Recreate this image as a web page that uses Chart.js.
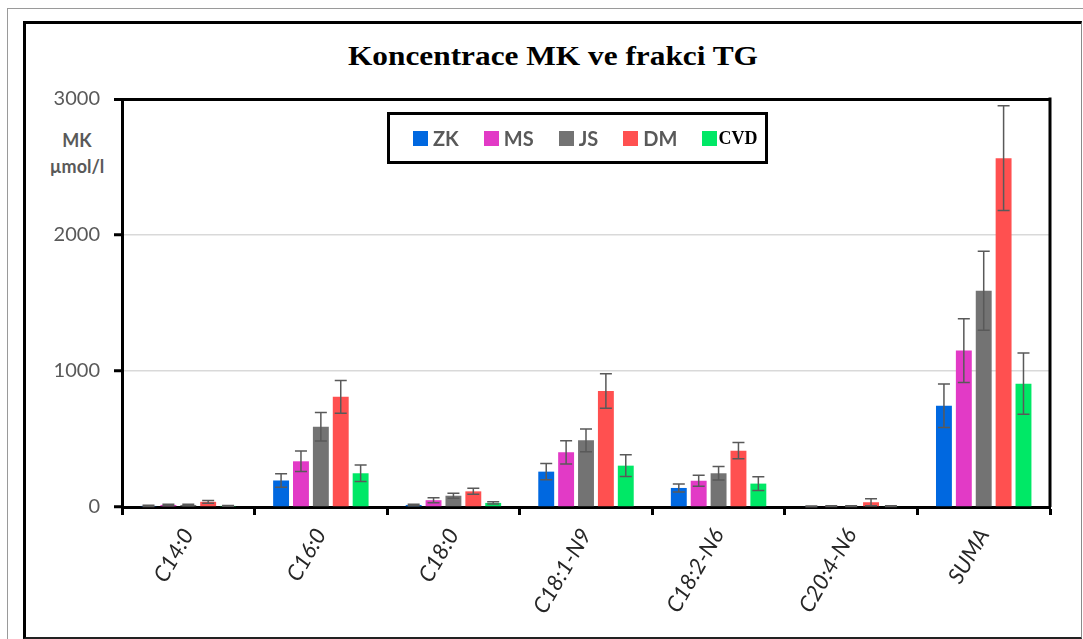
<!DOCTYPE html>
<html>
<head>
<meta charset="utf-8">
<script src="https://cdn.jsdelivr.net/npm/chart.js@4.4.1/dist/chart.umd.min.js"></script>
<style>
    body { margin: 0; background: #fff; }
    #wrap { position: relative; width: 1083px; height: 639px; overflow: hidden; }
    .outer { position: absolute; left: 7px; top: 8px; width: 1090px; height: 650px; border: 1px solid #9a9a9a; }
    .inner { position: absolute; left: 23px; top: 21px; width: 1055px; height: 613px;
             border-left: 3px solid #000; border-top: 3px solid #000;
             border-right: 1px solid #8a8a8a; border-bottom: 2px solid #222; }
    #title { position: absolute; left: 0; width: 1106px; top: 43px; text-align: center;
             font: bold 27px/27px "Liberation Serif", serif; color: #000;
             transform: scaleX(1.16); transform-origin: 553px 0; }
    .unit { position: absolute; width: 60px; left: 47px; text-align: center;
            font: bold 18px/18px Lato, sans-serif; color: #595959; }
    #legend { position: absolute; left: 387px; top: 112px; width: 352px; height: 46px;
              border: 3px solid #000; display: flex; align-items: center; padding-left: 23px; box-sizing: content-box; }
    .item { display: flex; align-items: center; margin-right: 25px; }
    .sw { width: 15px; height: 15px; margin-right: 5px; }
    .lbl { font: bold 20px/20px Lato, sans-serif; color: #595959; }
    .lbl.cvd { font: bold 18px/18px "Liberation Serif", serif; color: #000; margin-left: -4px; }
    canvas { position: absolute; left: 0; top: 0; }
</style>
</head>
<body>
<div id="wrap">
    <div class="outer"></div>
    <div class="inner"></div>
    <div id="title">Koncentrace MK ve frakci TG</div>
    <div class="unit" style="top:131px">MK</div>
    <div class="unit" style="top:157px">µmol/l</div>
    <canvas id="chart" width="1083" height="639"></canvas>
    <div id="legend"></div>
</div>
<script>
// categories and series
const categories = ['C14:0', 'C16:0', 'C18:0', 'C18:1-N9', 'C18:2-N6', 'C20:4-N6', 'SUMA'];
const groups = ['ZK', 'MS', 'JS', 'DM', 'CVD'];
const colors = ['#0068E0', '#E23AC6', '#737373', '#FF5050', '#00E866'];

const zk = [8, 195, 15, 260, 140, 5, 745];
const ms = [15, 336, 50, 402, 193, 6, 1150];
const js = [15, 590, 83, 490, 248, 6, 1590];
const dm = [38, 810, 115, 853, 414, 35, 2565];
const cvd = [8, 248, 30, 304, 172, 6, 907];

const zkErr = [4, 50, 5, 60, 30, 3, 160];
const msErr = [5, 75, 18, 85, 40, 3, 235];
const jsErr = [5, 105, 18, 83, 50, 3, 290];
const dmErr = [10, 120, 22, 127, 60, 25, 385];
const cvdErr = [3, 60, 8, 80, 50, 3, 225];

const yTicks = [0, 1000, 2000, 3000];

const values = [zk, ms, js, dm, cvd];
const errors = [zkErr, msErr, jsErr, dmErr, cvdErr];

// error bars drawn on top of the bars using the y scale
const errorBars = {
    id: 'errorBars',
    afterDatasetsDraw(chart) {
        const ctx = chart.ctx;
        const y = chart.scales.y;
        ctx.save();
        ctx.strokeStyle = '#595959';
        ctx.lineWidth = 1.5;
        chart.data.datasets.forEach((ds, i) => {
            const meta = chart.getDatasetMeta(i);
            meta.data.forEach((bar, j) => {
                const v = ds.data[j];
                const e = ds.errors[j];
                const top = y.getPixelForValue(v + e);
                const bottom = y.getPixelForValue(Math.max(0, v - e));
                ctx.beginPath();
                ctx.moveTo(bar.x, top);
                ctx.lineTo(bar.x, bottom);
                ctx.moveTo(bar.x - 6, top);
                ctx.lineTo(bar.x + 6, top);
                ctx.moveTo(bar.x - 6, bottom);
                ctx.lineTo(bar.x + 6, bottom);
                ctx.stroke();
            });
        });
        ctx.restore();
    }
};

// right border of the plot box
const plotBox = {
    id: 'plotBox',
    afterDraw(chart) {
        const a = chart.chartArea;
        const ctx = chart.ctx;
        ctx.save();
        ctx.strokeStyle = '#000';
        ctx.lineWidth = 3;
        ctx.beginPath();
        ctx.moveTo(a.right, a.top - 1.5);
        ctx.lineTo(a.right, a.bottom);
        ctx.stroke();
        ctx.restore();
    }
};

new Chart(document.getElementById('chart'), {
    type: 'bar',
    data: {
        labels: categories,
        datasets: groups.map((g, i) => ({
            label: g,
            data: values[i],
            errors: errors[i],
            backgroundColor: colors[i],
            borderWidth: 0,
            categoryPercentage: 0.75,
            barPercentage: 0.8
        }))
    },
    options: {
        responsive: false,
        animation: false,
        layout: { padding: { left: 0, top: 99, right: 33, bottom: 0 } },
        plugins: {
            legend: { display: false },
            tooltip: { enabled: false }
        },
        scales: {
            x: {
                afterFit(scale) { scale.height = 132; },
                grid: {
                    offset: true,
                    drawOnChartArea: false,
                    tickLength: 8,
                    tickColor: '#000',
                    tickWidth: 3
                },
                border: { color: '#000', width: 3 },
                ticks: {
                    minRotation: 60,
                    maxRotation: 60,
                    padding: 9,
                    color: '#262626',
                    font: { family: 'Lato', size: 22, style: 'italic' }
                }
            },
            y: {
                min: 0,
                max: 3000,
                afterFit(scale) { scale.width = 122; },
                afterBuildTicks(scale) { scale.ticks = yTicks.map(v => ({ value: v })); },
                grid: {
                    color: c => c.tick.value === 3000 ? '#000' : '#d9d9d9',
                    lineWidth: c => c.tick.value === 3000 ? 3 : 1.5,
                    tickLength: 8,
                    tickColor: '#000',
                    tickWidth: 3
                },
                border: { color: '#000', width: 3 },
                ticks: {
                    padding: 14,
                    color: '#595959',
                    font: { family: 'Lato', size: 20 },
                    callback: v => String(v)
                }
            }
        }
    },
    plugins: [errorBars, plotBox]
});

// legend built from the series names and colours
const legend = document.getElementById('legend');
groups.forEach((g, i) => {
    const item = document.createElement('div');
    item.className = 'item';
    const sw = document.createElement('div');
    sw.className = 'sw';
    sw.style.background = colors[i];
    const lbl = document.createElement('span');
    lbl.className = g === 'CVD' ? 'lbl cvd' : 'lbl';
    lbl.textContent = g;
    item.appendChild(sw);
    item.appendChild(lbl);
    legend.appendChild(item);
});
</script>
</body>
</html>
